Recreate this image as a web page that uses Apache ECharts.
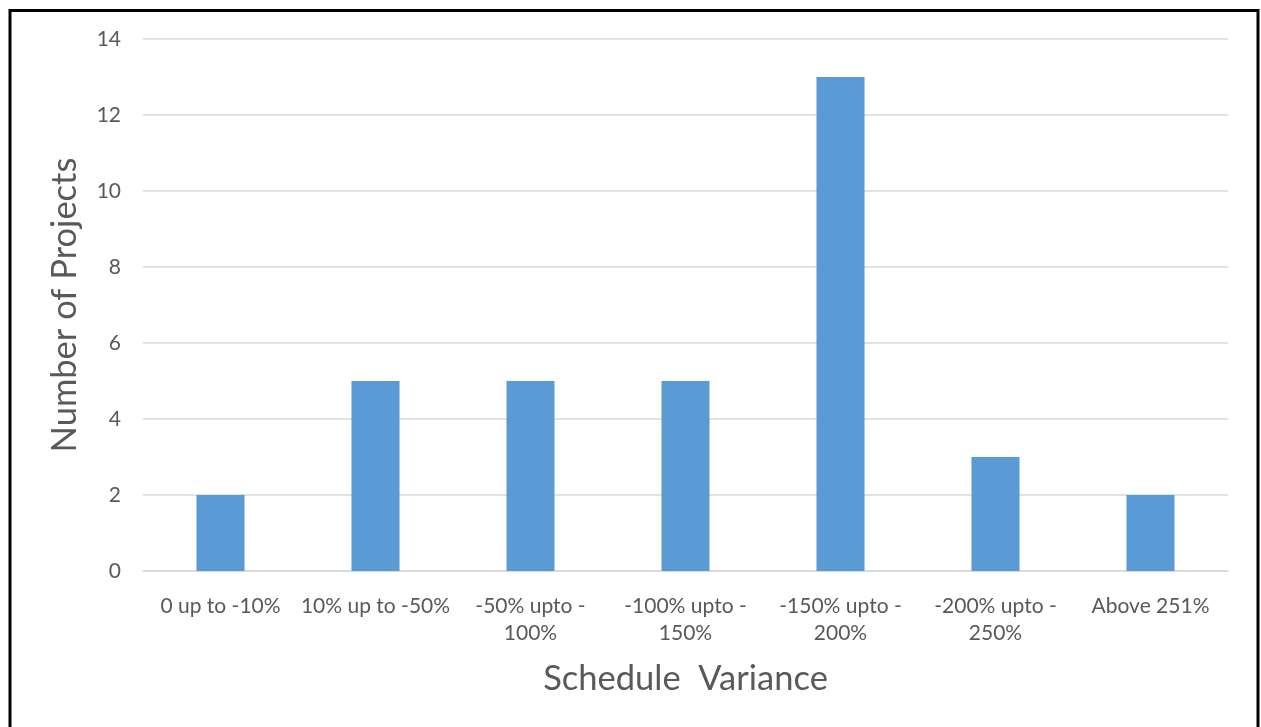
<!DOCTYPE html>
<html>
<head>
<meta charset="utf-8">
<script src="https://cdn.jsdelivr.net/npm/echarts@6/dist/echarts.min.js"></script>
<style>
  html, body { margin: 0; padding: 0; background: #fff; }
  #chart { width: 1261px; height: 727px; }
</style>
</head>
<body>
<div id="chart"></div>
<script>
// Schedule variance buckets and project counts
const categories = [
  '0 up to -10%',
  '10% up to -50%',
  '-50% upto -\n100%',
  '-100% upto -\n150%',
  '-150% upto -\n200%',
  '-200% upto -\n250%',
  'Above 251%'
];
const projectCounts = [2, 5, 5, 5, 13, 3, 2];
const yTicks = { min: 0, max: 14, interval: 2 };

const FONT = 'Lato, "Open Sans", sans-serif';
const TEXT = '#595959';

const chart = echarts.init(document.getElementById('chart'));
chart.setOption({
  animation: false,
  backgroundColor: '#fff',
  graphic: [{
    type: 'rect',
    shape: { x: 10, y: 10.5, width: 1248, height: 740 },
    style: { fill: 'none', stroke: '#000', lineWidth: 3 },
    silent: true
  }],
  grid: { left: 143, right: 33, top: 39, bottom: 156 },
  xAxis: {
    type: 'category',
    data: categories,
    name: 'Schedule  Variance',
    nameLocation: 'middle',
    nameGap: 90,
    nameTextStyle: { fontFamily: FONT, fontSize: 34.5, color: TEXT },
    axisLine: { lineStyle: { color: '#d9d9d9', width: 1.5 } },
    axisTick: { show: false },
    axisLabel: {
      fontFamily: FONT, fontSize: 21, color: TEXT,
      margin: 22, lineHeight: 27, interval: 0
    }
  },
  yAxis: {
    type: 'value',
    min: yTicks.min, max: yTicks.max, interval: yTicks.interval,
    name: 'Number of Projects',
    nameLocation: 'middle',
    nameGap: 61,
    nameTextStyle: { fontFamily: FONT, fontSize: 34.5, color: TEXT },
    axisLine: { show: false },
    axisTick: { show: false },
    axisLabel: { fontFamily: FONT, fontSize: 21, color: TEXT, margin: 22 },
    splitLine: { lineStyle: { color: '#d9d9d9', width: 1.5 } }
  },
  series: [{
    type: 'bar',
    data: projectCounts,
    barWidth: '31%',
    itemStyle: { color: '#5b9bd5' }
  }]
});
</script>
</body>
</html>
